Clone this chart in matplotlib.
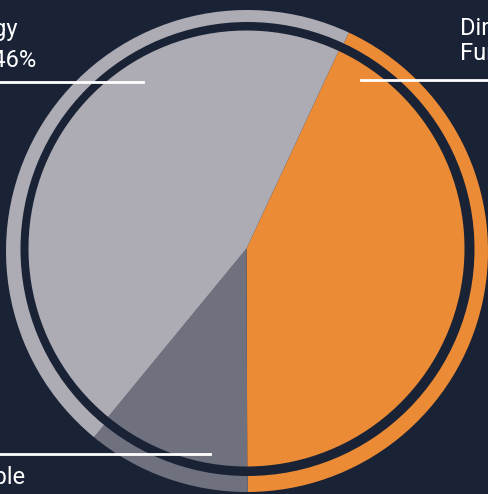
import matplotlib
matplotlib.use("Agg")
import matplotlib.pyplot as plt
from matplotlib.patches import Circle

# slice data (clockwise from the orange edge)
labels = ["Direct Funding", "Renewable", "Energy"]
values = [43, 11, 46]
colors = ["#ec8b35", "#6f717e", "#adacb4"]

bg = "#1a2336"
H = 494

fig = plt.figure(figsize=(4.89, 4.94), dpi=100)
fig.patch.set_facecolor(bg)
ax = fig.add_axes([0, 0, 1, 1])
ax.set_facecolor(bg)

# outer pie (shows as the ring)
ax.pie(values, colors=colors, startangle=65, counterclock=False,
       center=(247, H - 251), radius=241, frame=True,
       wedgeprops=dict(linewidth=0))
# dark gap between ring and inner pie
ax.add_patch(Circle((247.5, H - 249), 227, facecolor=bg, edgecolor="none", zorder=3))
# inner pie
wedges, _ = ax.pie(values, colors=colors, startangle=65, counterclock=False,
                   center=(246.5, H - 248.5), radius=218, frame=True,
                   wedgeprops=dict(linewidth=0))
for w in wedges:
    w.set_zorder(4)

ax.set_xlim(0, 489)
ax.set_ylim(0, H)
ax.set_aspect("auto")
ax.axis("off")

font = dict(family="Roboto", size=17, color="white")

# top-left label
ax.text(18, H - 36, "Energy", ha="right", va="baseline", **font)
ax.text(36, H - 67, "Share 46%", ha="right", va="baseline", **font)
ax.plot([0, 143], [H - 82.5, H - 82.5], color="white", lw=2, zorder=6)

# top-right label
ax.text(460, H - 35, "Direct", ha="left", va="baseline", **font)
ax.text(460, H - 60, "Funding 43%", ha="left", va="baseline", **font)
ax.plot([361, 489], [H - 80.5, H - 80.5], color="white", lw=2, zorder=6)

# bottom-left label
ax.text(25, H - 484, "Renewable", ha="right", va="baseline", **font)
ax.text(20, H - 513, "11%", ha="right", va="baseline", **font)
ax.plot([0, 210], [H - 453.5, H - 453.5], color="white", lw=2, zorder=6)

fig.savefig("out.png", dpi=100, facecolor=bg)
